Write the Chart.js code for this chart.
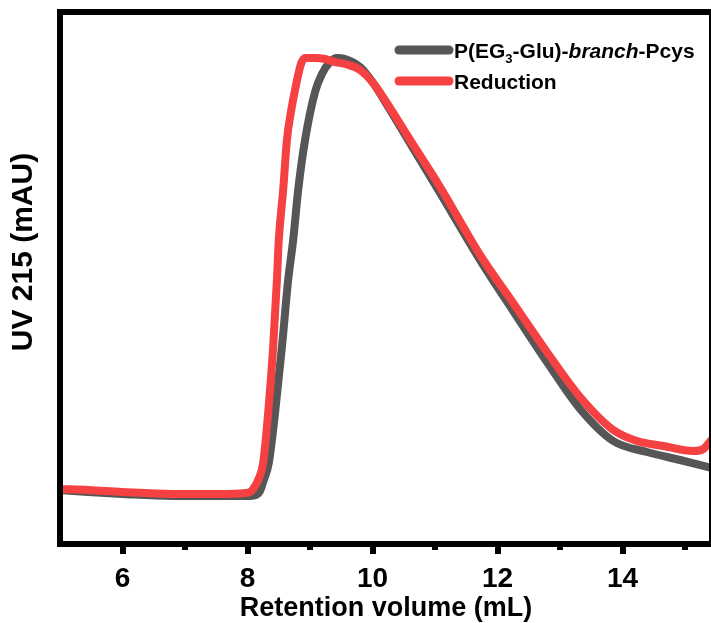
<!DOCTYPE html>
<html>
<head>
<meta charset="utf-8">
<script src="https://cdn.jsdelivr.net/npm/chart.js@4.4.1/dist/chart.umd.min.js"></script>
<style>
  html, body { margin: 0; padding: 0; background: #fff; overflow: hidden; width: 711px; height: 623px; }
  #wrap { width: 716px; height: 623px; }
</style>
</head>
<body>
<div id="wrap"><canvas id="c" width="716" height="623"></canvas></div>
<script>
// ---- data ----
const origX = [5.00, 5.45, 5.99, 6.79, 7.59, 8.04, 8.14, 8.20, 8.26, 8.34, 8.44, 8.55, 8.65, 8.73, 8.81, 8.92, 9.08, 9.19, 9.32, 9.43, 9.56, 9.80, 10.01, 10.28, 10.55, 11.08, 11.72, 12.25, 12.79, 13.32, 13.85, 14.39, 14.92, 15.48];
const origY = [10.15, 9.77, 9.40, 9.02, 9.02, 9.02, 9.21, 9.96, 12.03, 15.23, 24.62, 37.03, 49.62, 57.14, 66.54, 75.94, 84.96, 88.35, 90.60, 91.35, 91.17, 89.66, 86.65, 81.58, 76.32, 65.98, 53.38, 43.80, 34.21, 25.38, 19.36, 17.29, 15.79, 14.10];

const redX = [5.00, 5.45, 5.99, 6.79, 7.59, 7.96, 8.04, 8.10, 8.17, 8.25, 8.33, 8.41, 8.47, 8.50, 8.57, 8.63, 8.70, 8.76, 8.81, 8.86, 8.92, 9.08, 9.24, 9.40, 9.56, 9.80, 10.01, 10.28, 10.55, 11.08, 11.72, 12.25, 12.79, 13.32, 13.85, 14.23, 14.65, 15.13, 15.29, 15.42];
const redY = [10.34, 10.15, 9.77, 9.40, 9.40, 9.59, 9.77, 10.53, 12.03, 15.23, 24.62, 37.03, 49.62, 57.14, 66.54, 75.94, 81.58, 85.34, 88.16, 90.41, 91.35, 91.35, 91.17, 90.60, 90.23, 89.10, 86.65, 81.95, 76.88, 67.10, 54.32, 45.30, 36.09, 27.63, 21.43, 19.36, 18.42, 17.48, 17.86, 19.55];

const seriesNames = ['P(EG3-Glu)-branch-Pcys', 'Reduction'];
const majorTicks = [6, 8, 10, 12, 14];
const minorTicks = [7, 9, 11, 13, 15];
const tickLabels = ['6', '8', '10', '12', '14'];
const xTitle = 'Retention volume (mL)';
const yTitle = 'UV 215 (mAU)';

const GRAY = '#565656';
const RED = '#f54141';
const FONT = '"Liberation Sans", Arial, sans-serif';

function pts(xs, ys) { return xs.map((x, i) => ({ x: x, y: ys[i] })); }

const decor = {
  id: 'decor',
  afterDatasetsDraw(chart) {
    const ctx = chart.ctx, a = chart.chartArea, xs = chart.scales.x;
    ctx.save();
    // frame
    ctx.strokeStyle = '#000';
    ctx.lineWidth = 6;
    ctx.strokeRect(a.left, a.top, a.right - a.left, a.bottom - a.top);
    // ticks
    ctx.fillStyle = '#000';
    majorTicks.forEach(v => {
      const px = xs.getPixelForValue(v);
      ctx.fillRect(Math.round(px) - 3, a.bottom, 6, 10);
    });
    minorTicks.forEach(v => {
      const px = xs.getPixelForValue(v);
      ctx.fillRect(Math.round(px) - 3, a.bottom, 6, 6);
    });
    // tick labels
    ctx.font = 'bold 28px ' + FONT;
    ctx.textAlign = 'center';
    ctx.textBaseline = 'middle';
    majorTicks.forEach((v, i) => {
      ctx.fillText(tickLabels[i], xs.getPixelForValue(v), 579);
    });
    // x title
    ctx.font = 'bold 27px ' + FONT;
    ctx.fillText(xTitle, (a.left + 712) / 2, 609);
    // y title
    ctx.save();
    ctx.translate(24, 252);
    ctx.rotate(-Math.PI / 2);
    ctx.font = 'bold 30px ' + FONT;
    ctx.fillText(yTitle, 0, 0);
    ctx.restore();
    // legend
    ctx.lineCap = 'round';
    ctx.lineWidth = 9;
    const ly = [50, 81];
    const cols = [GRAY, RED];
    cols.forEach((c, i) => {
      ctx.strokeStyle = c;
      ctx.beginPath();
      ctx.moveTo(399, ly[i]);
      ctx.lineTo(449, ly[i]);
      ctx.stroke();
    });
    ctx.textAlign = 'left';
    ctx.textBaseline = 'alphabetic';
    ctx.fillStyle = '#000';
    const base0 = ly[0] + 7.5;
    let tx = 454;
    const seg = (t, f, dy) => { ctx.font = f; ctx.fillText(t, tx, base0 + (dy || 0)); tx += ctx.measureText(t).width; };
    const b = 'bold 21px ' + FONT, bi = 'italic bold 21px ' + FONT, sub = 'bold 13px ' + FONT;
    seg('P(EG', b);
    seg('3', sub, 5);
    seg('-Glu)-', b);
    seg('branch', bi);
    seg('-Pcys', b);
    ctx.font = b;
    ctx.fillText(seriesNames[1], 454, ly[1] + 7.5);
    ctx.restore();
  }
};

new Chart(document.getElementById('c'), {
  type: 'line',
  data: {
    datasets: [
      { label: seriesNames[0], data: pts(origX, origY), borderColor: GRAY, borderWidth: 8, pointRadius: 0, cubicInterpolationMode: 'monotone', order: 1, borderJoinStyle: 'round', borderCapStyle: 'round' },
      { label: seriesNames[1], data: pts(redX, redY), borderColor: RED, borderWidth: 8, pointRadius: 0, cubicInterpolationMode: 'monotone', order: 0, borderJoinStyle: 'round', borderCapStyle: 'round' }
    ]
  },
  options: {
    responsive: false,
    animation: false,
    devicePixelRatio: 1,
    layout: { padding: { left: 60, right: 4, top: 12, bottom: 79 } },
    plugins: { legend: { display: false }, tooltip: { enabled: false } },
    scales: {
      x: { type: 'linear', min: 5, max: 15.43, display: false },
      y: { type: 'linear', min: 0, max: 100, display: false }
    }
  },
  plugins: [decor]
});
</script>
</body>
</html>
